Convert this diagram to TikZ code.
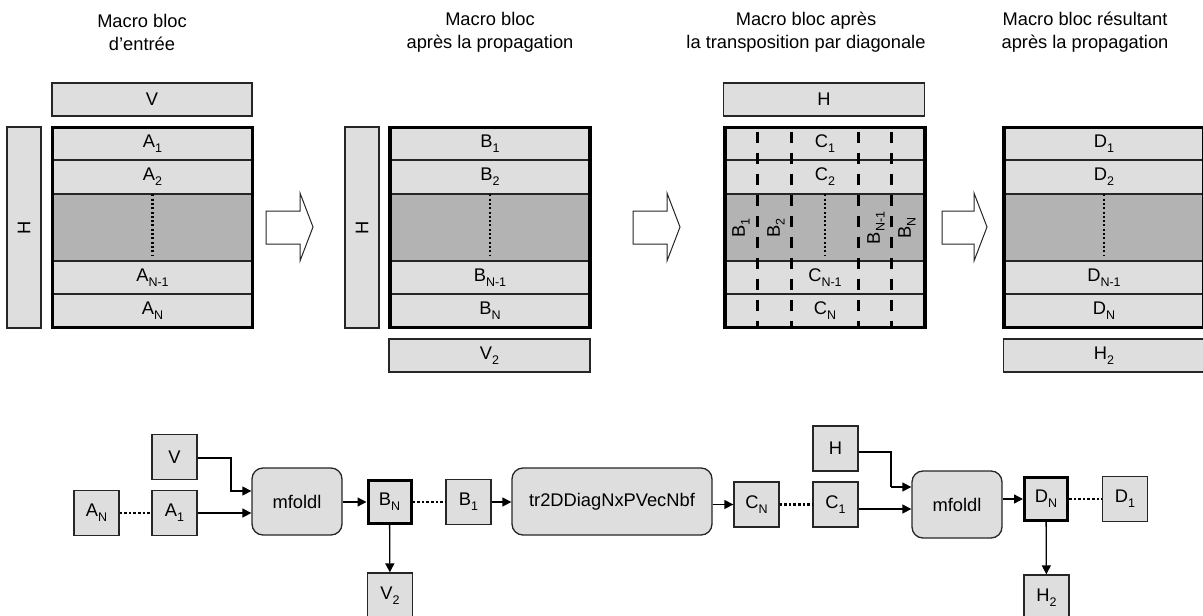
\documentclass[tikz,border=0pt]{standalone}
\usepackage{fontspec}
\setmainfont{Liberation Sans}
\usetikzlibrary{arrows.meta,calc}
\definecolor{lightfill}{HTML}{DEDEDE}
\definecolor{bandfill}{HTML}{B3B3B3}
\definecolor{edgecol}{HTML}{262626}
\newcommand\lowsub[1]{\raisebox{-0.5ex}{\fontsize{12.5}{12.5}\selectfont #1}}
\tikzset{
  row/.style={draw=edgecol, fill=lightfill, line width=1.3pt, minimum width=200pt, inner sep=0pt},
  band/.style={row, fill=bandfill},
  framebox/.style={draw=black, line width=3.5pt, minimum width=200pt, minimum height=200pt, inner sep=0pt},
  side/.style={draw=edgecol, fill=lightfill, line width=1.3pt, inner sep=0pt},
  vdots/.style={line width=2.2pt, dash pattern=on 2pt off 2.3pt},
  coldash/.style={line width=3pt, dash pattern=on 11pt off 10pt},
  bigarrow/.style={draw=edgecol, fill=white, line width=1pt},
  title/.style={align=center, font=\fontsize{18.3}{23}\selectfont},
  sq/.style={draw=edgecol, fill=lightfill, line width=1.3pt, minimum width=45pt, minimum height=45pt, inner sep=0pt},
  sqthick/.style={sq, draw=black, line width=3pt, minimum width=43pt, minimum height=43pt},
  proc/.style={draw=edgecol, fill=lightfill, line width=1.3pt, rounded corners=11pt, inner sep=0pt},
  arr/.style={-{Triangle[length=9pt,width=9pt]}, line width=1.3pt, draw=black},
  dotline/.style={line width=2.8pt, dash pattern=on 2.6pt off 2pt},
  plain/.style={line width=1.3pt, draw=black}
}
% #1 prefix, #2 centre x, #3 letter
\newcommand\mblock[3]{%
  \node[row, minimum height=32.5pt] (#1r1) at (#2,143.75) {#3\lowsub{1}};
  \node[row, minimum height=34pt] (#1r2) at (#2,177) {#3\lowsub{2}};
  \node[band, minimum height=67pt] (#1g) at (#2,227.5) {};
  \node[row, minimum height=33pt] (#1r4) at (#2,277.5) {#3\lowsub{N-1}};
  \node[row, minimum height=33.5pt] (#1r5) at (#2,310.75) {#3\lowsub{N}};
  \draw[vdots] ($(#1g.north)+(0,1)$) -- ++(0,62);
}
\newcommand\mframe[2]{\node[framebox] (#1f) at (#2,227.5) {};}
\begin{document}
\begin{tikzpicture}[x=1pt,y=-1pt,font=\fontsize{18.3}{21}\selectfont]
\useasboundingbox (0,0) rectangle (1203,616);

% ---------- titles ----------
\node[title] (t1) at (142,32.5) {Macro bloc\\d'entrée};
\node[title] (t2) at (490,32.5) {Macro bloc\\après la propagation};
\node[title] (t3) at (806,32.5) {Macro bloc après\\la transposition par diagonale};
\node[title] (t4) at (1085,32.5) {Macro bloc résultant\\après la propagation};

% ---------- block 1 ----------
\node[side, minimum width=200pt, minimum height=33pt] (v1) at (152,99.5) {V};
\node[side, minimum width=34pt, minimum height=201pt] (hb1) at (24,227.5) {\rotatebox{90}{H}};
\mblock{a}{152.5}{A}
\mframe{a}{152.5}

% ---------- block 2 ----------
\node[side, minimum width=34pt, minimum height=201pt] (hb2) at (362,227.5) {\rotatebox{90}{H}};
\mblock{b}{490}{B}
\mframe{b}{490}
\node[side, minimum width=201pt, minimum height=33pt] (v2b) at (489.5,355.5) {V\lowsub{2}};

% ---------- block 3 ----------
\node[side, minimum width=201pt, minimum height=33pt] (h3) at (824,99.5) {H};
\node[row, minimum height=32.5pt] (cr1) at (825,143.75) {};
\node[row, minimum height=34pt] (cr2) at (825,177) {};
\node[band, minimum height=67pt] (cg) at (825,227.5) {};
\node[row, minimum height=33pt] (cr4) at (825,277.5) {};
\node[row, minimum height=33.5pt] (cr5) at (825,310.75) {};
\node (cl1) at (825,143.75) {C\lowsub{1}};
\node (cl2) at (825,177) {C\lowsub{2}};
\node (cl4) at (825,277.5) {C\lowsub{N-1}};
\node (cl5) at (825,310.75) {C\lowsub{N}};
\draw[vdots] ($(cg.north)+(0,1)$) -- ++(0,62);
\foreach \dx in {-68,-34,33,66} {
  \draw[coldash] (825+\dx,131.5) -- (825+\dx,328);
}
\node (rb1) at (741,228) {\rotatebox{90}{B\lowsub{1}}};
\node (rb2) at (776,228) {\rotatebox{90}{B\lowsub{2}}};
\node (rb3) at (876,228) {\rotatebox{90}{B\lowsub{N-1}}};
\node (rb4) at (907,228) {\rotatebox{90}{B\lowsub{N}}};
\mframe{c}{825}

% ---------- block 4 ----------
\mblock{d}{1104}{D}
\mframe{d}{1104}
\node[side, minimum width=201pt, minimum height=33pt] (h2b) at (1104,355.5) {H\lowsub{2}};

% ---------- big arrows ----------
\draw[bigarrow] (266,211) -- (300,211) -- (300,193) -- (313,227) -- (300,261) -- (300,244) -- (266,244) -- cycle;
\draw[bigarrow] (633,211) -- (667,211) -- (667,193) -- (680,227) -- (667,261) -- (667,244) -- (633,244) -- cycle;
\draw[bigarrow] (942,211) -- (974,211) -- (974,193) -- (987,227) -- (974,261) -- (974,244) -- (942,244) -- cycle;

% ---------- bottom chain ----------
\node[sq] (an) at (96.5,513) {A\lowsub{N}};
\node[sq] (a1) at (174.5,513) {A\lowsub{1}};
\node[sq] (vv) at (174.5,457) {V};
\node[proc, minimum width=90pt, minimum height=67pt] (m1) at (297,501.5) {mfoldl};
\node[sqthick] (bn) at (389.5,502) {B\lowsub{N}};
\node[sq] (b1) at (468.5,502) {B\lowsub{1}};
\node[sq] (v2) at (390,595.5) {V\lowsub{2}};
\node[proc, minimum width=200pt, minimum height=67pt] (tr) at (612,501.5) {tr2DDiagNxPVecNbf};
\node[sq] (cn) at (756.5,504.5) {C\lowsub{N}};
\node[sq] (c1) at (835.5,504.5) {C\lowsub{1}};
\node[sq] (hh) at (835.5,448.5) {H};
\node[proc, minimum width=90pt, minimum height=67pt] (m2) at (957,504.5) {mfoldl};
\node[sqthick] (dn) at (1046,499) {D\lowsub{N}};
\node[sq] (d1) at (1125,499) {D\lowsub{1}};
\node[sq] (h2) at (1046.5,597.5) {H\lowsub{2}};

\coordinate (kv) at (231,491);
\coordinate (kh) at (891,487);
\coordinate (vo) at ($(vv.east)+(0,1)$);
\coordinate (ho) at ($(hh.east)+(0,3.5)$);
\coordinate (c1o) at ($(c1.east)+(0,4.5)$);

\draw[dotline] (an) -- (a1);
\draw[arr] (vo) -| (kv) -- (kv -| m1.west);
\draw[arr] (a1.east) -- (a1.east -| m1.west);
\draw[arr] (bn.west -| m1.east) -- (bn.west);
\draw[dotline] (bn) -- (b1);
\draw[arr] (bn) -- (v2);
\draw[arr] (b1.east) -- (b1.east -| tr.west);
\draw[arr] (cn.west -| tr.east) -- (cn.west);
\draw[dotline] (cn) -- (c1);
\draw[plain] (ho) -| (kh);
\draw[arr] (kh) -- (kh -| m2.west);
\draw[arr] (c1o) -- (c1o -| m2.west);
\draw[arr] (dn.west -| m2.east) -- (dn.west);
\draw[dotline] (dn) -- (d1);
\draw[arr] (dn) -- (h2);
\end{tikzpicture}
\end{document}
